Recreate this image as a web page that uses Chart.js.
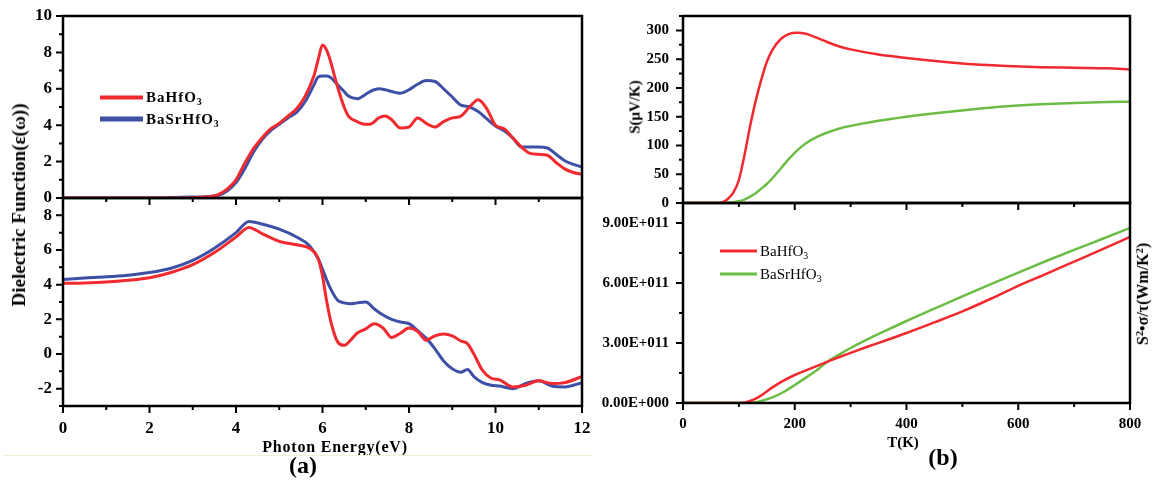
<!DOCTYPE html>
<html>
<head>
<meta charset="utf-8">
<script src="https://cdn.jsdelivr.net/npm/chart.js@4/dist/chart.umd.min.js"></script>
<style>
  body { margin: 0; background: #fff; width: 1156px; height: 483px; overflow: hidden; position: relative; font-family: "Liberation Serif", serif; }
  canvas { position: absolute; }
  .txt { position: absolute; font-weight: bold; white-space: nowrap; color: #000; transform: translate(-50%, -50%); }
  .rot { transform: translate(-50%, -50%) rotate(-90deg); }
  .leg { position: absolute; display: flex; align-items: center; transform: translateY(-50%); white-space: nowrap; color: #000; }
  .leg .sw { display: inline-block; margin-right: 3px; }
  .leg sub { font-size: 0.65em; position: relative; top: 0.45em; }
  sup { font-size: 0.65em; vertical-align: 0.5em; }
</style>
</head>
<body>

<canvas id="a_bot" width="600" height="260" style="left:0;top:180px"></canvas>
<canvas id="a_top" width="600" height="208" style="left:0;top:0"></canvas>
<canvas id="b_bot" width="545" height="255" style="left:600px;top:185px"></canvas>
<canvas id="b_top" width="545" height="215" style="left:600px;top:0"></canvas>

<!-- panel (a) text -->
<div class="txt rot" style="left:19px;top:205px;font-size:19px">Dielectric Function(ε(ω))</div>
<div class="txt" style="left:335px;top:447px;font-size:16px;letter-spacing:0.8px">Photon Energy(eV)</div>
<div class="txt" style="left:303px;top:465px;font-size:24px">(a)</div>
<div class="leg" style="left:100px;top:97px;font-size:15px;font-weight:bold;letter-spacing:1px"><span class="sw" style="width:43px;height:4px;background:#f02a2e"></span>BaHfO<sub>3</sub></div>
<div class="leg" style="left:100px;top:119px;font-size:15px;font-weight:bold;letter-spacing:1px"><span class="sw" style="width:43px;height:5px;background:#3e50a6"></span>BaSrHfO<sub>3</sub></div>
<div style="position:absolute;left:3px;top:455px;width:590px;height:1px;background:#f3efd6"></div>

<!-- panel (b) text -->
<div class="txt rot" style="left:635px;top:107px;font-size:15px">S(μV/K)</div>
<div class="txt rot" style="left:1143px;top:294px;font-size:16px">S<sup>2</sup>•σ/τ(Wm/K<sup>2</sup>)</div>
<div class="txt" style="left:903px;top:442px;font-size:15px">T(K)</div>
<div class="txt" style="left:943px;top:457px;font-size:24px">(b)</div>
<div class="leg" style="left:720px;top:251px;font-size:15px"><span class="sw" style="width:37px;height:3px;background:#f02a2e"></span>BaHfO<sub>3</sub></div>
<div class="leg" style="left:720px;top:274px;font-size:15px"><span class="sw" style="width:37px;height:3px;background:#6cbd45"></span>BaSrHfO<sub>3</sub></div>

<script>
// (a) top: imaginary part, photon energy in eV
var eTop = [0, 1, 2, 2.6, 3.0, 3.3, 3.6, 3.8, 4.0, 4.2, 4.4, 4.6, 4.8, 5.0, 5.2, 5.4, 5.6, 5.8, 5.9, 6.0,
  6.1, 6.2, 6.3, 6.4, 6.5, 6.6, 6.8, 7.0, 7.1, 7.3, 7.45, 7.6, 7.8, 8.0, 8.2, 8.4, 8.6, 8.8, 9.0, 9.2,
  9.4, 9.6, 9.8, 10.0, 10.2, 10.4, 10.6, 10.8, 11.0, 11.2, 11.4, 11.6, 11.8, 12.0];
var redTop = [0, 0, 0, 0, 0.02, 0.05, 0.2, 0.5, 1.0, 1.9, 2.7, 3.3, 3.8, 4.1, 4.5, 4.9, 5.6, 6.7, 7.6, 8.4,
  8.1, 7.4, 6.5, 5.7, 5.0, 4.5, 4.2, 4.05, 4.05, 4.4, 4.5, 4.3, 3.85, 3.9, 4.4, 4.1, 3.9, 4.2, 4.4, 4.5,
  5.0, 5.4, 4.9, 4.0, 3.8, 3.3, 2.8, 2.45, 2.4, 2.35, 1.95, 1.6, 1.4, 1.3];
var blueTop = [0, 0, 0, 0.03, 0.05, 0.07, 0.15, 0.4, 0.85, 1.6, 2.5, 3.2, 3.7, 4.05, 4.4, 4.7, 5.3, 6.2, 6.65, 6.7,
  6.7, 6.6, 6.35, 6.1, 5.85, 5.6, 5.45, 5.7, 5.85, 6.0, 5.95, 5.85, 5.75, 5.95, 6.25, 6.45, 6.4, 6.0, 5.55, 5.1,
  5.0, 4.75, 4.35, 3.95, 3.7, 3.3, 2.8, 2.8, 2.8, 2.75, 2.4, 2.05, 1.85, 1.7];

// (a) bottom: real part
var eBot = [0, 0.5, 1, 1.5, 2, 2.5, 3, 3.5, 4, 4.3, 4.6, 5.0, 5.4, 5.7, 5.9, 6.0, 6.1, 6.2, 6.35, 6.5,
  6.65, 6.8, 7.0, 7.2, 7.4, 7.6, 7.8, 8.0, 8.2, 8.4, 8.6, 8.8, 9.0, 9.2, 9.35, 9.5, 9.7, 9.9, 10.1, 10.4,
  10.7, 11.0, 11.3, 11.6, 12.0];
var redBot = [4.08, 4.1, 4.15, 4.25, 4.4, 4.7, 5.15, 5.85, 6.75, 7.3, 6.95, 6.5, 6.3, 6.1, 5.5, 4.5, 3.0, 1.8, 0.7, 0.5,
  0.8, 1.2, 1.45, 1.75, 1.5, 0.95, 1.2, 1.5, 1.3, 0.8, 1.05, 1.15, 1.05, 0.75, 0.6, 0.0, -0.95, -1.4, -1.5, -1.9,
  -1.8, -1.55, -1.7, -1.65, -1.3];
var blueBot = [4.3, 4.38, 4.45, 4.55, 4.7, 4.95, 5.4, 6.1, 7.0, 7.65, 7.5, 7.2, 6.75, 6.25, 5.5, 4.9, 4.25, 3.7, 3.1, 2.95,
  2.9, 2.95, 3.0, 2.6, 2.25, 2.0, 1.85, 1.75, 1.35, 0.9, 0.3, -0.4, -0.85, -1.05, -0.9, -1.3, -1.65, -1.8, -1.85, -2.0,
  -1.7, -1.55, -1.85, -1.9, -1.65];

// (b) top: Seebeck coefficient vs temperature
var tS = [0, 60, 70, 80, 90, 100, 110, 120, 130, 140, 150, 160, 175, 190, 205, 220, 240, 260, 280, 300,
  350, 400, 460, 520, 580, 640, 700, 760, 800];
var redS = [0, 0, 1, 7, 18, 40, 83, 133, 177, 214, 245, 266, 285, 294, 296, 294, 287, 279, 272, 267,
  258, 252, 246, 241, 238, 236, 235, 234, 232];
var greenS = [0, 0, 0, 0.3, 1.5, 3, 6, 11, 17, 25, 33, 43, 60, 77, 92, 104, 115, 123, 129.5, 134,
  143, 150, 157, 163, 168, 171.5, 174, 175.5, 176];

// (b) bottom: power factor
var tPF = [0, 50, 100, 110, 120, 130, 140, 160, 180, 200, 220, 240, 260, 280, 300, 330, 360, 400, 450, 500,
  550, 600, 650, 700, 750, 800];
var redPF = [0, 0, 0, 0.02e11, 0.1e11, 0.22e11, 0.38e11, 0.78e11, 1.12e11, 1.4e11, 1.63e11, 1.86e11, 2.08e11, 2.3e11, 2.51e11, 2.81e11, 3.1e11, 3.5e11, 4.03e11, 4.58e11,
  5.2e11, 5.86e11, 6.46e11, 7.07e11, 7.68e11, 8.3e11];
var greenPF = [0, 0, 0, 0, 0.01e11, 0.04e11, 0.1e11, 0.28e11, 0.55e11, 0.9e11, 1.27e11, 1.65e11, 2.1e11, 2.43e11, 2.75e11, 3.18e11, 3.58e11, 4.1e11, 4.72e11, 5.33e11,
  5.93e11, 6.52e11, 7.1e11, 7.66e11, 8.2e11, 8.75e11];

var RED = '#f02a2e', BLUE = '#3e50a6', GREEN = '#6cbd45';

Chart.defaults.font.family = "'Liberation Serif', serif";
Chart.defaults.color = '#000';

function pts(xs, ys) {
  var out = [];
  for (var i = 0; i < xs.length; i++) out.push({x: xs[i], y: ys[i]});
  return out;
}

function isMajor(v, step) {
  return Math.abs(v / step - Math.round(v / step)) < 1e-6;
}

// fixed tick list, chart.js picks odd steps for very large numbers
function tickList(min, max, step) {
  var out = [];
  var n = Math.round((max - min) / step);
  for (var i = 0; i <= n; i++) {
    var v = min + i * step;
    if (v <= max + step * 1e-6) out.push({value: v});
  }
  return out;
}

// fixed axis size and no extra room for overflowing labels, so the plot box lands where we want
function fixSize(s, w, h) {
  if (w !== null) s.width = w;
  if (h !== null) s.height = h;
  s.paddingTop = s.paddingBottom = s.paddingLeft = s.paddingRight = 0;
}

// frame round the plot area, plus outward tick marks (long majors, short minors)
var framePlugin = {
  id: 'frame',
  afterDraw: function(chart, args, opts) {
    var a = chart.chartArea, ctx = chart.ctx;
    var xs = chart.scales.x, ys = chart.scales.y;
    ctx.save();
    ctx.strokeStyle = '#000';
    ctx.lineWidth = 2;
    ctx.beginPath();
    xs.ticks.forEach(function(t) {
      var px = xs.getPixelForValue(t.value);
      var len = isMajor(t.value, opts.xMajor) ? 7 : 4;
      ctx.moveTo(px, a.bottom);
      ctx.lineTo(px, a.bottom + len);
    });
    ys.ticks.forEach(function(t) {
      var py = ys.getPixelForValue(t.value);
      var len = isMajor(t.value, opts.yMajor) ? 7 : 4;
      ctx.moveTo(a.left, py);
      ctx.lineTo(a.left - len, py);
    });
    ctx.stroke();
    ctx.lineWidth = 2.5;
    ctx.strokeRect(a.left, a.top, a.right - a.left, a.bottom - a.top);
    ctx.restore();
  }
};

function makeChart(id, cfg) {
  return new Chart(document.getElementById(id), {
    type: 'line',
    data: {
      datasets: cfg.series.map(function(s) {
        return {
          data: pts(cfg.xs, s.ys),
          borderColor: s.color,
          borderWidth: cfg.lineWidth,
          pointRadius: 0,
          fill: false,
          cubicInterpolationMode: 'monotone'
        };
      })
    },
    options: {
      responsive: false,
      animation: false,
      devicePixelRatio: 1,
      layout: {padding: cfg.padding},
      plugins: {
        legend: {display: false},
        tooltip: {enabled: false},
        frame: {xMajor: cfg.xMajor, yMajor: cfg.yMajor}
      },
      scales: {
        x: {
          type: 'linear', min: cfg.xMin, max: cfg.xMax,
          grid: {display: false, drawTicks: false},
          border: {display: false},
          ticks: {
            display: cfg.xLabels, autoSkip: false, maxRotation: 0, padding: 12,
            font: {size: cfg.fontSize, weight: 'bold'},
            callback: function(v) { return isMajor(v, cfg.xMajor) ? String(v) : ''; }
          },
          afterBuildTicks: function(s) { s.ticks = tickList(cfg.xMin, cfg.xMax, cfg.xStep); },
          afterFit: function(s) { fixSize(s, null, cfg.xHeight); }
        },
        y: {
          type: 'linear', min: cfg.yMin, max: cfg.yMax,
          grid: {display: false, drawTicks: false},
          border: {display: false},
          ticks: {
            autoSkip: false, padding: cfg.yPad,
            font: {size: cfg.fontSize, weight: 'bold'},
            callback: cfg.yFormat || function(v) { return isMajor(v, cfg.yMajor) ? String(v) : ''; }
          },
          afterBuildTicks: function(s) { s.ticks = tickList(cfg.yMin, cfg.yMax, cfg.yStep); },
          afterFit: function(s) { fixSize(s, cfg.yWidth, null); }
        }
      }
    },
    plugins: [framePlugin]
  });
}

function sciLabel(v) {
  if (!isMajor(v, 3e11)) return '';
  if (v === 0) return '0.00E+000';
  var e = Math.floor(Math.log10(Math.abs(v)) + 1e-9);
  var m = v / Math.pow(10, e);
  return m.toFixed(2) + 'E+' + ('00' + e).slice(-3);
}

makeChart('a_top', {
  xs: eTop, series: [{ys: redTop, color: RED}, {ys: blueTop, color: BLUE}],
  xMin: 0, xMax: 12, xStep: 1, xMajor: 2, xLabels: false,
  yMin: 0, yMax: 10, yStep: 1, yMajor: 2,
  padding: {top: 16, right: 18, left: 0, bottom: 0}, xHeight: 10, yWidth: 63, yPad: 11,
  fontSize: 17, lineWidth: 3
});

makeChart('a_bot', {
  xs: eBot, series: [{ys: redBot, color: RED}, {ys: blueBot, color: BLUE}],
  xMin: 0, xMax: 12, xStep: 1, xMajor: 2, xLabels: true,
  yMin: -3, yMax: 9, yStep: 1, yMajor: 2,
  padding: {top: 18, right: 18, left: 0, bottom: 0}, xHeight: 34, yWidth: 63, yPad: 11,
  fontSize: 17, lineWidth: 3
});

makeChart('b_top', {
  xs: tS, series: [{ys: redS, color: RED}, {ys: greenS, color: GREEN}],
  xMin: 0, xMax: 800, xStep: 100, xMajor: 200, xLabels: false,
  yMin: 0, yMax: 325, yStep: 25, yMajor: 50,
  padding: {top: 16, right: 15, left: 0, bottom: 0}, xHeight: 12, yWidth: 83, yPad: 14,
  fontSize: 15, lineWidth: 2.5
});

makeChart('b_bot', {
  xs: tPF, series: [{ys: redPF, color: RED}, {ys: greenPF, color: GREEN}],
  xMin: 0, xMax: 800, xStep: 100, xMajor: 200, xLabels: true,
  yMin: 0, yMax: 1e12, yStep: 1.5e11, yMajor: 3e11, yFormat: sciLabel,
  padding: {top: 18, right: 15, left: 0, bottom: 0}, xHeight: 37, yWidth: 83, yPad: 14,
  fontSize: 15, lineWidth: 2.5
});
</script>
</body>
</html>
